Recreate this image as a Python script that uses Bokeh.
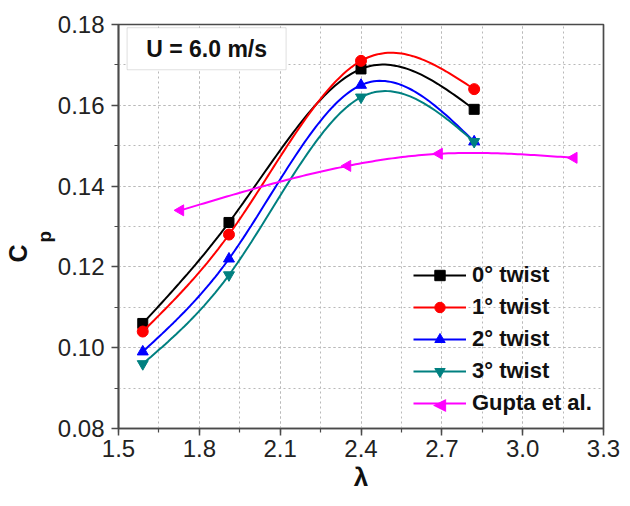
import numpy as np
from bokeh.plotting import figure
from bokeh.models import FixedTicker, Legend, LegendItem, Label, BoxAnnotation, Range1d, Title
from bokeh.embed import file_html
from bokeh.resources import INLINE

# ---- data ----
tsr = [1.59, 1.91, 2.40, 2.82]
cp_twist0 = [0.106, 0.131, 0.169, 0.159]
cp_twist1 = [0.104, 0.128, 0.171, 0.164]
cp_twist2 = [0.099, 0.122, 0.165, 0.151]
cp_twist3 = [0.096, 0.118, 0.162, 0.151]
gupta_tsr = [1.73, 2.35, 2.69, 3.19]
gupta_cp = [0.134, 0.145, 0.148, 0.147]
series_labels = ["0° twist", "1° twist", "2° twist", "3° twist", "Gupta et al."]
x_ticks = [1.5, 1.8, 2.1, 2.4, 2.7, 3.0, 3.3]
y_ticks = [0.08, 0.10, 0.12, 0.14, 0.16, 0.18]


def natural_spline(x, y, n=120):
    x = np.asarray(x, float)
    y = np.asarray(y, float)
    k = len(x)
    h = np.diff(x)
    A = np.zeros((k, k))
    b = np.zeros(k)
    A[0, 0] = 1
    A[-1, -1] = 1
    for i in range(1, k - 1):
        A[i, i - 1] = h[i - 1]
        A[i, i] = 2 * (h[i - 1] + h[i])
        A[i, i + 1] = h[i]
        b[i] = 6 * ((y[i + 1] - y[i]) / h[i] - (y[i] - y[i - 1]) / h[i - 1])
    M = np.linalg.solve(A, b)
    xs = np.linspace(x[0], x[-1], n)
    ys = np.empty_like(xs)
    for j, t in enumerate(xs):
        i = min(max(np.searchsorted(x, t, side="right") - 1, 0), k - 2)
        a = x[i + 1] - t
        c = t - x[i]
        hi = h[i]
        ys[j] = ((M[i] * a**3 + M[i + 1] * c**3) / (6 * hi)
                 + (y[i] / hi - M[i] * hi / 6) * a + (y[i + 1] / hi - M[i + 1] * hi / 6) * c)
    return xs, ys


FONT = "Liberation Sans"

p = figure(frame_width=485, frame_height=404, output_backend="svg", toolbar_location=None,
           x_range=Range1d(1.5, 3.3), y_range=Range1d(0.08, 0.18),
           min_border_left=118, min_border_right=19, min_border_top=24, min_border_bottom=70)
p.background_fill_color = "white"
p.border_fill_color = "white"
p.outline_line_color = "#4a4a4a"
p.outline_line_width = 1.7

x_minor = [round(1.5 + 0.15 * i, 2) for i in range(13)]
y_minor = [round(0.08 + 0.01 * i, 2) for i in range(11)]
p.xaxis.ticker = FixedTicker(ticks=x_ticks, minor_ticks=x_minor)
p.yaxis.ticker = FixedTicker(ticks=y_ticks, minor_ticks=y_minor)
p.xaxis.major_label_overrides = {t: f"{t:.1f}" for t in x_ticks}
p.yaxis.major_label_overrides = {t: f"{t:.2f}" for t in y_ticks}

for ax in (p.xaxis[0], p.yaxis[0]):
    ax.axis_line_color = "#4a4a4a"
    ax.axis_line_width = 1.7
    ax.major_tick_line_color = "#4a4a4a"
    ax.minor_tick_line_color = "#4a4a4a"
    ax.major_tick_line_width = 1.5
    ax.minor_tick_line_width = 1.2
    ax.major_tick_out = 7
    ax.major_tick_in = 0
    ax.minor_tick_out = 4
    ax.minor_tick_in = 0
    ax.major_label_text_font = FONT
    ax.major_label_text_font_size = "24px"
    ax.major_label_text_color = "#222222"
    ax.axis_label_text_font = FONT
    ax.axis_label_text_font_style = "bold"
    ax.axis_label_text_color = "#111111"

p.xaxis.major_label_standoff = 4
p.yaxis.major_label_standoff = 7
p.xaxis.axis_label = "λ"
p.xaxis.axis_label_text_font_size = "26px"
p.xaxis.axis_label_standoff = 2

for g in (p.xgrid[0], p.ygrid[0]):
    g.grid_line_color = "#b8b8b8"
    g.grid_line_dash = "2 3"
    g.grid_line_width = 1
    g.minor_grid_line_color = "#b8b8b8"
    g.minor_grid_line_dash = "2 3"
    g.minor_grid_line_width = 1

# y-axis title C_p as two side titles
p.add_layout(Title(text="p", align="left", offset=186, standoff=0,
                   text_font=FONT, text_font_style="bold", text_font_size="19px",
                   text_color="#111111"), "left")
p.add_layout(Title(text="C", align="left", offset=166, standoff=0,
                   text_font=FONT, text_font_style="bold", text_font_size="25px",
                   text_color="#111111"), "left")

colors = ["black", "#ff0000", "#0000ff", "#008080", "#ff00ff"]
markers = ["square", "circle", "triangle", "inverted_triangle", "triangle"]
sizes = [10, 11, 11, 11, 11]
angles = [0, 0, 0, 0, np.pi / 2]
xs_list = [tsr, tsr, tsr, tsr, gupta_tsr]
ys_list = [cp_twist0, cp_twist1, cp_twist2, cp_twist3, gupta_cp]

items = []
for xs, ys, c, m, s, a, lab in zip(xs_list, ys_list, colors, markers, sizes, angles, series_labels):
    sx, sy = natural_spline(xs, ys)
    lr = p.line(sx, sy, line_color=c, line_width=2)
    sr = p.scatter(xs, ys, marker=m, size=s, fill_color=c, line_color=c, angle=a)
    rends = [lr, sr] if a == 0 else [lr]
    items.append(LegendItem(label=lab, renderers=rends))

legend = Legend(items=items, location=(295, 9))
legend.border_line_color = None
legend.background_fill_alpha = 0
legend.label_text_font = FONT
legend.label_text_font_style = "bold"
legend.label_text_font_size = "22px"
legend.label_text_color = "#111111"
legend.glyph_width = 53
legend.glyph_height = 26
legend.label_height = 32
legend.label_standoff = 6
legend.spacing = 0
legend.padding = 0
legend.margin = 0
p.add_layout(legend, "center")

# U = 6.0 m/s box
p.add_layout(BoxAnnotation(left=1.532, right=2.122, top=0.1792, bottom=0.1688,
                           fill_color="white", fill_alpha=1,
                           line_color="#999999", line_width=1))
p.add_layout(Label(x=1.827, y=0.1740, text="U = 6.0 m/s", text_font=FONT,
                   text_font_style="bold", text_font_size="23px", text_color="#111111",
                   text_align="center", text_baseline="middle"))

# left-pointing marker for the last legend entry
p.add_layout(Label(x=321, y=25, x_units="screen", y_units="screen", text="◀",
                   text_font="DejaVu Sans", text_font_size="17px", text_color="#ff00ff",
                   text_align="center", text_baseline="middle"))

open("out.html", "w").write(file_html(p, INLINE))
